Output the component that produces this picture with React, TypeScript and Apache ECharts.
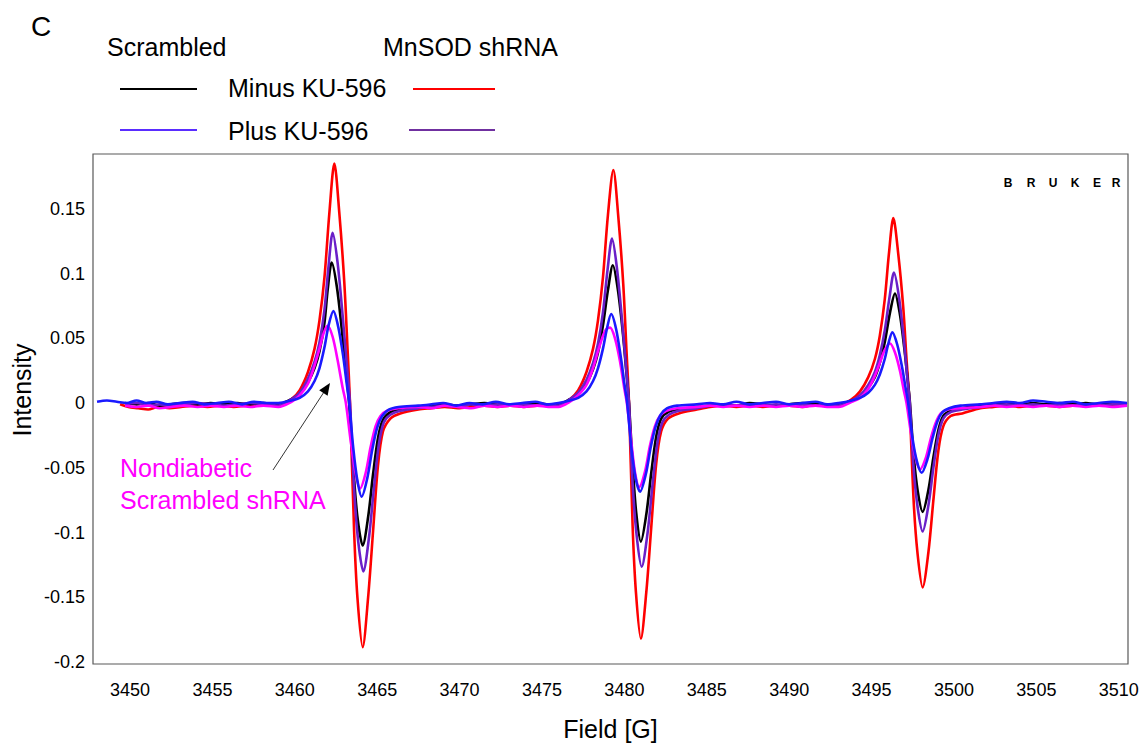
import React, { useEffect, useRef } from "react";
import * as echarts from "echarts";

const FONT = "'Liberation Sans', Arial, sans-serif";

const xTicks = [3450, 3455, 3460, 3465, 3470, 3475, 3480, 3485, 3490, 3495, 3500, 3505, 3510];
const yTicks = [-0.2, -0.15, -0.1, -0.05, 0, 0.05, 0.1, 0.15];

// Scrambled, minus KU-596 (black)
const scrMinus: [number, number][] = [
  [3449.7, 0.0], [3450.4, -0.001], [3451.1, 0.0], [3451.8, -0.002], [3452.5, -0.001], [3453.3, 0.0], [3454.1, -0.001], [3454.9, 0.0], [3455.7, -0.001], [3456.5, 0.0], [3457.3, -0.001], [3458.1, 0.0],
  [3459.0, -0.001], [3459.8, 0.003], [3460.3, 0.007], [3460.8, 0.016], [3461.2, 0.027], [3461.5, 0.040], [3461.8, 0.062], [3462.0, 0.088], [3462.24, 0.1085], [3462.55, 0.090], [3462.85, 0.057], [3463.1, 0.026], [3463.3, 0.0], [3463.55, -0.050], [3463.8, -0.088], [3464.12, -0.110], [3464.45, -0.088], [3464.75, -0.055], [3465.05, -0.027], [3465.35, -0.013], [3465.8, -0.007], [3466.4, -0.005], [3467.5, -0.003],
  [3468.3, -0.002], [3469.1, -0.001], [3469.9, -0.002], [3470.7, -0.001], [3471.5, 0.0], [3472.3, -0.001], [3473.1, -0.002], [3473.9, -0.001], [3474.7, 0.0], [3475.4, -0.001],
  [3476.0, -0.001], [3476.7, 0.003], [3477.2, 0.007], [3477.7, 0.015], [3478.1, 0.026], [3478.4, 0.039], [3478.7, 0.060], [3479.0, 0.087], [3479.3, 0.1064], [3479.6, 0.088], [3479.9, 0.055], [3480.12, 0.024], [3480.28, 0.0], [3480.5, -0.048], [3480.72, -0.085], [3481.0, -0.107], [3481.33, -0.086], [3481.63, -0.054], [3481.93, -0.026], [3482.23, -0.012], [3482.65, -0.007], [3483.3, -0.005], [3484.4, -0.003],
  [3485.2, -0.002], [3486.0, -0.001], [3486.8, -0.002], [3487.6, 0.0], [3488.4, -0.001], [3489.2, -0.002], [3490.0, -0.001], [3490.8, 0.0], [3491.6, -0.001], [3492.3, -0.001],
  [3493.0, -0.001], [3493.8, 0.002], [3494.3, 0.005], [3494.8, 0.012], [3495.2, 0.020], [3495.5, 0.031], [3495.8, 0.047], [3496.12, 0.070], [3496.42, 0.0846], [3496.7, 0.070], [3496.98, 0.043], [3497.18, 0.019], [3497.33, 0.0], [3497.55, -0.040], [3497.8, -0.068], [3498.1, -0.084], [3498.45, -0.067], [3498.75, -0.042], [3499.05, -0.021], [3499.35, -0.010], [3499.8, -0.006], [3500.5, -0.004], [3501.6, -0.002],
  [3502.4, -0.001], [3503.2, 0.0], [3504.0, -0.001], [3504.8, 0.0], [3505.6, -0.001], [3506.4, 0.0], [3507.2, -0.001], [3508.0, 0.0], [3508.8, -0.001], [3509.6, 0.0], [3510.5, -0.001],
];

// Scrambled, plus KU-596 (blue)
const scrPlus: [number, number][] = [
  [3448.0, 0.001], [3448.6, 0.002], [3449.2, 0.001], [3449.8, 0.0], [3450.4, 0.002], [3451.0, 0.0], [3451.6, 0.001], [3452.3, -0.001], [3453.0, 0.0], [3453.8, 0.001], [3454.5, -0.001], [3455.3, 0.0], [3456.0, 0.001], [3456.8, -0.001], [3457.5, 0.001], [3458.3, 0.0],
  [3459.0, 0.0], [3459.8, 0.002], [3460.3, 0.004], [3460.8, 0.009], [3461.2, 0.017], [3461.5, 0.027], [3461.8, 0.043], [3462.05, 0.060], [3462.34, 0.071], [3462.65, 0.058], [3462.95, 0.035], [3463.15, 0.015], [3463.3, 0.0], [3463.55, -0.035], [3463.8, -0.060], [3464.06, -0.0723], [3464.4, -0.058], [3464.7, -0.036], [3465.0, -0.019], [3465.3, -0.010], [3465.7, -0.005], [3466.3, -0.003], [3467.5, -0.002],
  [3468.3, -0.001], [3469.0, 0.0], [3469.8, -0.002], [3470.6, 0.0], [3471.4, -0.001], [3472.2, 0.001], [3473.0, -0.001], [3473.8, 0.0], [3474.6, 0.001], [3475.3, -0.001],
  [3476.0, 0.0], [3476.7, 0.002], [3477.2, 0.004], [3477.7, 0.009], [3478.1, 0.017], [3478.4, 0.027], [3478.7, 0.042], [3478.95, 0.058], [3479.2, 0.0687], [3479.5, 0.057], [3479.8, 0.034], [3480.0, 0.015], [3480.17, 0.0], [3480.42, -0.034], [3480.68, -0.058], [3480.95, -0.0685], [3481.3, -0.055], [3481.6, -0.034], [3481.9, -0.018], [3482.2, -0.009], [3482.6, -0.004], [3483.2, -0.002], [3484.4, -0.001],
  [3485.2, 0.0], [3486.0, -0.001], [3486.8, 0.001], [3487.6, -0.001], [3488.4, 0.0], [3489.2, 0.001], [3490.0, -0.001], [3490.8, 0.0], [3491.6, 0.001], [3492.3, -0.001],
  [3493.0, 0.0], [3493.8, 0.002], [3494.3, 0.004], [3494.8, 0.008], [3495.2, 0.014], [3495.5, 0.022], [3495.8, 0.034], [3496.02, 0.046], [3496.26, 0.0546], [3496.56, 0.045], [3496.86, 0.027], [3497.06, 0.012], [3497.22, 0.0], [3497.48, -0.027], [3497.75, -0.045], [3498.04, -0.0538], [3498.4, -0.043], [3498.7, -0.027], [3499.0, -0.014], [3499.3, -0.007], [3499.7, -0.004], [3500.4, -0.002], [3501.6, -0.001],
  [3502.4, 0.0], [3503.2, 0.001], [3504.0, 0.0], [3504.8, 0.002], [3505.6, 0.001], [3506.4, 0.0], [3507.2, 0.001], [3508.0, -0.001], [3508.8, 0.0], [3509.6, 0.001], [3510.5, 0.0],
];

// MnSOD shRNA, minus KU-596 (red)
const mnMinus: [number, number][] = [
  [3449.4, -0.001], [3449.9, -0.003], [3450.5, -0.004], [3451.1, -0.005], [3451.7, -0.003], [3452.4, -0.004], [3453.1, -0.003], [3453.9, -0.002], [3454.7, -0.003], [3455.5, -0.002], [3456.3, -0.003], [3457.1, -0.002], [3457.9, -0.002], [3458.5, -0.001],
  [3459.0, -0.002], [3459.8, 0.003], [3460.3, 0.010], [3460.8, 0.024], [3461.2, 0.042], [3461.5, 0.064], [3461.8, 0.097], [3462.1, 0.147], [3462.4, 0.185], [3462.7, 0.147], [3463.0, 0.094], [3463.2, 0.042], [3463.35, 0.0], [3463.6, -0.099], [3463.8, -0.150], [3464.12, -0.1885], [3464.45, -0.150], [3464.75, -0.099], [3465.05, -0.048], [3465.35, -0.022], [3465.8, -0.012], [3466.4, -0.008], [3467.5, -0.005],
  [3468.3, -0.004], [3469.1, -0.003], [3469.9, -0.004], [3470.7, -0.003], [3471.5, -0.002], [3472.3, -0.003], [3473.1, -0.002], [3473.9, -0.003], [3474.7, -0.002], [3475.4, -0.002],
  [3476.0, -0.002], [3476.7, 0.003], [3477.2, 0.010], [3477.7, 0.024], [3478.1, 0.042], [3478.4, 0.064], [3478.7, 0.097], [3479.0, 0.145], [3479.33, 0.180], [3479.63, 0.144], [3479.93, 0.092], [3480.13, 0.040], [3480.28, 0.0], [3480.5, -0.095], [3480.7, -0.146], [3481.0, -0.182], [3481.33, -0.146], [3481.63, -0.096], [3481.93, -0.047], [3482.23, -0.022], [3482.65, -0.012], [3483.3, -0.008], [3484.4, -0.005],
  [3485.2, -0.003], [3486.0, -0.002], [3486.8, -0.003], [3487.6, -0.002], [3488.4, -0.003], [3489.2, -0.002], [3490.0, -0.002], [3490.8, -0.003], [3491.6, -0.001], [3492.3, -0.002],
  [3493.0, -0.002], [3493.8, 0.003], [3494.3, 0.009], [3494.8, 0.020], [3495.2, 0.034], [3495.5, 0.052], [3495.8, 0.080], [3496.05, 0.115], [3496.32, 0.1428], [3496.62, 0.115], [3496.92, 0.074], [3497.12, 0.034], [3497.3, 0.0], [3497.55, -0.075], [3497.78, -0.115], [3498.1, -0.1423], [3498.45, -0.115], [3498.75, -0.075], [3499.05, -0.037], [3499.35, -0.018], [3499.8, -0.010], [3500.5, -0.008], [3501.6, -0.004],
  [3502.4, -0.003], [3503.2, -0.002], [3504.0, -0.003], [3504.8, -0.002], [3505.6, -0.002], [3506.4, -0.003], [3507.2, -0.002], [3508.0, -0.002], [3508.8, -0.001], [3509.6, -0.002], [3510.5, -0.002],
];

// MnSOD shRNA, plus KU-596 (purple)
const mnPlus: [number, number][] = [
  [3449.7, -0.001], [3450.4, 0.0], [3451.1, -0.002], [3451.8, -0.001], [3452.5, -0.002], [3453.3, -0.001], [3454.1, 0.0], [3454.9, -0.001], [3455.7, -0.002], [3456.5, -0.001], [3457.3, 0.0], [3458.1, -0.001],
  [3459.0, -0.002], [3459.8, 0.003], [3460.3, 0.008], [3460.8, 0.019], [3461.2, 0.032], [3461.5, 0.047], [3461.8, 0.072], [3462.05, 0.106], [3462.3, 0.1315], [3462.6, 0.108], [3462.9, 0.068], [3463.15, 0.030], [3463.35, 0.0], [3463.6, -0.066], [3463.85, -0.107], [3464.16, -0.130], [3464.5, -0.104], [3464.8, -0.066], [3465.1, -0.032], [3465.4, -0.015], [3465.8, -0.009], [3466.4, -0.006], [3467.5, -0.004],
  [3468.3, -0.003], [3469.1, -0.002], [3469.9, -0.003], [3470.7, -0.001], [3471.5, -0.002], [3472.3, -0.001], [3473.1, -0.002], [3473.9, -0.001], [3474.7, -0.002], [3475.4, -0.001],
  [3476.0, -0.002], [3476.7, 0.003], [3477.2, 0.008], [3477.7, 0.018], [3478.1, 0.031], [3478.4, 0.046], [3478.7, 0.070], [3478.98, 0.103], [3479.25, 0.127], [3479.55, 0.104], [3479.85, 0.065], [3480.1, 0.028], [3480.28, 0.0], [3480.5, -0.062], [3480.75, -0.103], [3481.05, -0.1264], [3481.4, -0.101], [3481.7, -0.064], [3482.0, -0.031], [3482.3, -0.015], [3482.7, -0.009], [3483.3, -0.006], [3484.4, -0.004],
  [3485.2, -0.002], [3486.0, -0.001], [3486.8, -0.002], [3487.6, -0.001], [3488.4, -0.002], [3489.2, -0.001], [3490.0, -0.002], [3490.8, -0.001], [3491.6, -0.002], [3492.3, -0.001],
  [3493.0, -0.002], [3493.8, 0.002], [3494.3, 0.006], [3494.8, 0.014], [3495.2, 0.024], [3495.5, 0.037], [3495.8, 0.056], [3496.08, 0.081], [3496.36, 0.1008], [3496.66, 0.082], [3496.95, 0.050], [3497.15, 0.022], [3497.32, 0.0], [3497.55, -0.050], [3497.8, -0.081], [3498.1, -0.0992], [3498.45, -0.079], [3498.75, -0.050], [3499.05, -0.025], [3499.35, -0.012], [3499.8, -0.007], [3500.5, -0.005], [3501.6, -0.003],
  [3502.4, -0.002], [3503.2, -0.001], [3504.0, -0.002], [3504.8, -0.001], [3505.6, -0.002], [3506.4, -0.001], [3507.2, -0.002], [3508.0, -0.001], [3508.8, -0.002], [3509.6, -0.001], [3510.5, -0.001],
];

// Nondiabetic scrambled shRNA (magenta)
const nondiabetic: [number, number][] = [
  [3449.7, -0.002], [3450.4, -0.003], [3451.1, -0.002], [3451.8, -0.004], [3452.5, -0.003], [3453.3, -0.002], [3454.1, -0.003], [3454.9, -0.002], [3455.7, -0.003], [3456.5, -0.002], [3457.3, -0.003], [3458.1, -0.002],
  [3459.0, -0.003], [3459.8, 0.001], [3460.3, 0.006], [3460.8, 0.015], [3461.2, 0.029], [3461.5, 0.042], [3461.75, 0.054], [3461.99, 0.0597], [3462.3, 0.051], [3462.6, 0.033], [3462.9, 0.012], [3463.1, 0.0], [3463.4, -0.030], [3463.7, -0.055], [3463.96, -0.066], [3464.3, -0.054], [3464.6, -0.034], [3464.9, -0.018], [3465.2, -0.010], [3465.6, -0.006], [3466.3, -0.004], [3467.5, -0.003],
  [3468.3, -0.004], [3469.1, -0.002], [3469.9, -0.003], [3470.7, -0.004], [3471.5, -0.002], [3472.3, -0.003], [3473.1, -0.002], [3473.9, -0.003], [3474.7, -0.002], [3475.4, -0.003],
  [3476.0, -0.003], [3476.7, 0.001], [3477.2, 0.006], [3477.7, 0.014], [3478.1, 0.027], [3478.4, 0.040], [3478.7, 0.052], [3478.9, 0.057], [3479.13, 0.0582], [3479.45, 0.049], [3479.75, 0.031], [3480.0, 0.011], [3480.15, 0.0], [3480.42, -0.030], [3480.65, -0.054], [3480.9, -0.0649], [3481.25, -0.053], [3481.55, -0.033], [3481.85, -0.018], [3482.15, -0.010], [3482.55, -0.006], [3483.2, -0.004], [3484.4, -0.003],
  [3485.2, -0.002], [3486.0, -0.003], [3486.8, -0.002], [3487.6, -0.003], [3488.4, -0.002], [3489.2, -0.003], [3490.0, -0.002], [3490.8, -0.003], [3491.6, -0.002], [3492.3, -0.003],
  [3493.0, -0.003], [3493.8, 0.001], [3494.3, 0.004], [3494.8, 0.011], [3495.2, 0.021], [3495.5, 0.031], [3495.8, 0.041], [3496.12, 0.046], [3496.42, 0.039], [3496.72, 0.025], [3496.97, 0.009], [3497.12, 0.0], [3497.4, -0.024], [3497.68, -0.043], [3497.94, -0.0513], [3498.3, -0.042], [3498.6, -0.027], [3498.9, -0.015], [3499.2, -0.008], [3499.6, -0.005], [3500.3, -0.004], [3501.6, -0.003],
  [3502.4, -0.002], [3503.2, -0.003], [3504.0, -0.002], [3504.8, -0.003], [3505.6, -0.002], [3506.4, -0.003], [3507.2, -0.002], [3508.0, -0.003], [3508.8, -0.002], [3509.6, -0.003], [3510.5, -0.002],
];

const seriesNames = [
  "MnSOD shRNA Minus KU-596",
  "Scrambled Minus KU-596",
  "MnSOD shRNA Plus KU-596",
  "Nondiabetic Scrambled shRNA",
  "Scrambled Plus KU-596",
];
const seriesData = [mnMinus, scrMinus, mnPlus, nondiabetic, scrPlus];
const seriesColors = ["#ff0000", "#000000", "#6a1fc8", "#ff00ff", "#1a1aff"];

function fmtY(v: number): string {
  return String(parseFloat(v.toFixed(2)));
}

export default function App() {
  const ref = useRef<HTMLDivElement>(null);
  useEffect(() => {
    if (!ref.current) return;
    const chart = echarts.init(ref.current, null, { renderer: "svg" });
    const text = (x: number, y: number, t: string, size: number, color = "#000", extra: any = {}) => ({
      type: "text",
      x,
      y,
      style: { text: t, fontSize: size, fill: color, fontFamily: FONT, textVerticalAlign: "middle", ...extra },
    });
    const legendLine = (x1: number, x2: number, y: number, color: string) => ({
      type: "line",
      shape: { x1, y1: y, x2, y2: y },
      style: { stroke: color, lineWidth: 2 },
    });
    const brukerX = [1008, 1031, 1053, 1075, 1097, 1116];
    const brukerL = ["B", "R", "U", "K", "E", "R"];
    const option: any = {
      animation: false,
      backgroundColor: "#ffffff",
      grid: {
        left: 93,
        right: 15,
        top: 154,
        bottom: 78,
        show: true,
        borderColor: "#595959",
        borderWidth: 1.2,
        containLabel: false,
      },
      xAxis: {
        type: "value",
        min: 3447.755,
        max: 3510.56,
        axisLine: { show: false },
        axisTick: { show: false },
        splitLine: { show: false },
        axisLabel: {
          customValues: xTicks,
          fontSize: 18,
          color: "#000",
          fontFamily: FONT,
          margin: 17,
          formatter: (v: number) => String(Math.round(v)),
        },
        name: "Field [G]",
        nameLocation: "middle",
        nameGap: 52,
        nameTextStyle: { fontSize: 25, color: "#000", fontFamily: FONT },
      },
      yAxis: {
        type: "value",
        min: -0.2015,
        max: 0.1923,
        axisLine: { show: false },
        axisTick: { show: false },
        splitLine: { show: false },
        axisLabel: {
          customValues: yTicks,
          fontSize: 18,
          color: "#000",
          fontFamily: FONT,
          margin: 8,
          formatter: (v: number) => fmtY(v),
        },
      },
      series: seriesData.map((d, i) => ({
        name: seriesNames[i],
        type: "line",
        data: d,
        showSymbol: false,
        smooth: 0.3,
        lineStyle: { color: seriesColors[i], width: 2.6 },
        itemStyle: { color: seriesColors[i] },
        z: 2 + i,
      })),
      graphic: [
        text(31, 26, "C", 28),
        text(107, 47, "Scrambled", 25),
        text(383, 47, "MnSOD shRNA", 25),
        legendLine(120, 197, 89, "#000000"),
        text(228, 88, "Minus KU-596", 25),
        legendLine(413, 495, 89, "#ff0000"),
        legendLine(120, 197, 130, "#5a2dff"),
        text(228, 131, "Plus KU-596", 25),
        legendLine(409, 495, 130, "#7030a0"),
        {
          type: "text",
          x: 22,
          y: 390,
          rotation: Math.PI / 2,
          style: { text: "Intensity", fontSize: 25, fill: "#000", fontFamily: FONT, textAlign: "center", textVerticalAlign: "middle" },
        },
        text(120, 468, "Nondiabetic", 25, "#ff00ff"),
        text(120, 500, "Scrambled shRNA", 25, "#ff00ff"),
        {
          type: "line",
          shape: { x1: 273, y1: 470, x2: 324, y2: 392 },
          style: { stroke: "#333", lineWidth: 1 },
          z: 20,
        },
        {
          type: "polygon",
          shape: { points: [[330, 383], [327.6, 395.7], [319.2, 390.3]] },
          style: { fill: "#000" },
          z: 20,
        },
        ...brukerL.map((l, i) => ({
          type: "text",
          x: brukerX[i],
          y: 183,
          style: { text: l, fontSize: 12, fontWeight: "bold", fill: "#000", fontFamily: FONT, textAlign: "center", textVerticalAlign: "middle" },
        })),
      ],
    };
    chart.setOption(option);
    return () => chart.dispose();
  }, []);
  return <div ref={ref} style={{ position: "absolute", left: 0, top: 0, width: 1143, height: 746 }} />;
}
